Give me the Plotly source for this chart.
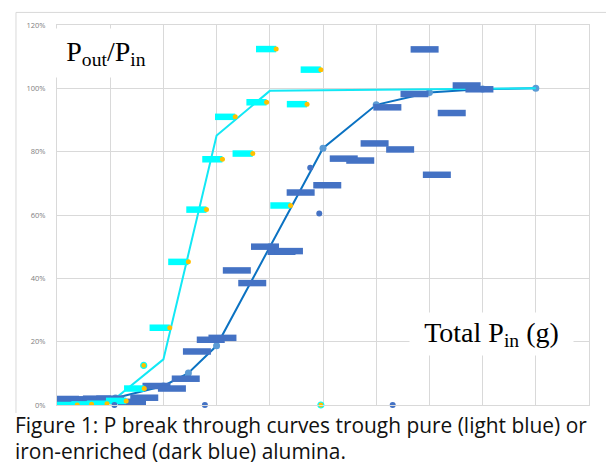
import plotly.graph_objects as go

# ---- data (x in grid units of total P in, y in %) ----
pure_line_x = [0, 1.1, 2, 3, 4, 5, 6, 7, 8, 9]
pure_line_y = [0.2, 2.1, 14.4, 85.1, 99.2, 99.4, 99.6, 99.8, 100, 100]

iron_line_x = [0, 1.1, 2, 2.47, 3, 4, 5, 6, 7, 8, 9]
iron_line_y = [1.5, 2.2, 6.0, 10.1, 18.7, 50.0, 81.1, 94.8, 98.7, 99.8, 100]

pure_pts_x = [0.38, 0.65, 0.94, 1.30, 1.64, 2.12, 2.47, 2.81, 3.11, 3.35, 3.68,
              3.94, 4.12, 4.39, 4.70, 4.96]
pure_pts_y = [0.0, 0.2, 0.4, 1.3, 5.2, 24.4, 45.2, 61.7, 77.6, 91.0, 79.4,
              95.6, 112.4, 63.0, 95.0, 105.9]
pure_single_x = [1.63, 4.96]
pure_single_y = [12.5, 0.0]

iron_pts_x = [0.15, 0.45, 0.75, 1.0, 1.41, 1.64, 1.87, 2.16, 2.42, 2.63, 2.89,
              3.11, 3.38, 3.67, 3.91, 4.22, 4.36, 4.58, 5.08, 5.39, 5.70, 5.97,
              6.21, 6.45, 6.72, 6.91, 7.14, 7.42, 7.70, 7.94]
iron_pts_y = [1.9, 1.8, 2.0, 2.0, 1.0, 2.3, 6.0, 5.2, 8.3, 16.9, 20.6,
              21.2, 42.5, 38.5, 50.0, 48.4, 48.6, 67.1, 69.4, 77.8, 77.2, 82.6,
              94.0, 80.7, 98.2, 112.3, 72.7, 92.2, 100.9, 99.7]
iron_single_x = [1.08, 2.78, 6.31, 4.76, 4.93]
iron_single_y = [0.0, 0.0, 0.0, 74.9, 60.5]

y_ticks = [0, 20, 40, 60, 80, 100, 120]
y_tick_labels = ["0%", "20%", "40%", "60%", "80%", "100%", "120%"]

CYAN_LINE = "#12E8F5"
CYAN = "#00FFFF"
GOLD = "#FFC000"
DARK = "#4472C4"
LINE_BLUE = "#0B72C2"
MARK_BLUE = "#5B9BD5"
GRID = "#D9D9D9"

fig = go.Figure()

fig.add_trace(go.Scatter(
    x=iron_line_x, y=iron_line_y, mode="lines+markers",
    line=dict(color=LINE_BLUE, width=2),
    marker=dict(color=MARK_BLUE, size=7),
    showlegend=False, hoverinfo="skip"))

fig.add_trace(go.Scatter(
    x=pure_line_x, y=pure_line_y, mode="lines",
    line=dict(color=CYAN_LINE, width=2),
    showlegend=False, hoverinfo="skip"))

fig.add_trace(go.Scatter(
    x=iron_pts_x, y=iron_pts_y, mode="markers",
    marker=dict(symbol="line-ew", size=20, line=dict(color=DARK, width=6.5)),
    showlegend=False, hoverinfo="skip"))

fig.add_trace(go.Scatter(
    x=pure_pts_x, y=pure_pts_y, mode="markers",
    marker=dict(color=GOLD, size=5),
    error_x=dict(type="constant", symmetric=False, value=0, valueminus=0.38,
                 thickness=6.5, width=0, color=CYAN),
    showlegend=False, hoverinfo="skip"))

fig.add_trace(go.Scatter(
    x=pure_single_x, y=pure_single_y, mode="markers",
    marker=dict(color=GOLD, size=6, line=dict(color=CYAN, width=1.2)),
    showlegend=False, hoverinfo="skip", cliponaxis=False))

fig.add_trace(go.Scatter(
    x=iron_single_x, y=iron_single_y, mode="markers",
    marker=dict(color=DARK, size=6),
    showlegend=False, hoverinfo="skip", cliponaxis=False))

fig.update_xaxes(range=[0, 10], dtick=1, showticklabels=False, showgrid=True,
                 gridcolor=GRID, gridwidth=1, zeroline=False,
                 showline=True, mirror=True, linecolor=GRID, linewidth=1)
fig.update_yaxes(range=[0, 120], tickvals=y_ticks, ticktext=y_tick_labels,
                 tickfont=dict(family="Open Sans", size=7.5, color="#808080"),
                 showgrid=True, gridcolor=GRID, gridwidth=1, zeroline=False,
                 showline=True, mirror=True, linecolor=GRID, linewidth=1,
                 ticklabelstandoff=9)

annotations = [
    dict(text="P<sub>out</sub>/P<sub>in</sub>", xref="paper", yref="paper",
         x=0.0921, y=0.925, xanchor="center", yanchor="middle", showarrow=False,
         font=dict(family="Liberation Serif", size=28, color="#000000"),
         bgcolor="#FFFFFF", width=104, height=44, borderpad=2),
    dict(text="Total P<sub>in</sub> (g)", xref="paper", yref="paper",
         x=0.8167, y=0.188, xanchor="center", yanchor="middle", showarrow=False,
         font=dict(family="Liberation Serif", size=28, color="#000000"),
         bgcolor="#FFFFFF", width=159, height=38, borderpad=2),
    dict(text="Figure 1: P break through curves trough pure (light blue) or",
         xref="paper", yref="paper", x=-0.0827, y=-0.0522, xanchor="left",
         yanchor="middle", showarrow=False,
         font=dict(family="Open Sans", size=20.9, color="#111111")),
    dict(text="iron-enriched (dark blue) alumina.",
         xref="paper", yref="paper", x=-0.0827, y=-0.120, xanchor="left",
         yanchor="middle", showarrow=False,
         font=dict(family="Open Sans", size=20.9, color="#111111")),
]

shapes = [
    dict(type="line", xref="paper", yref="paper", x0=-0.0771, x1=1.05,
         y0=1.0331, y1=1.0331, line=dict(color=GRID, width=1)),
    dict(type="line", xref="paper", yref="paper", x0=-0.0771, x1=-0.0771,
         y0=1.0331, y1=-0.021, line=dict(color=GRID, width=1)),
]

# the page body adds an 8px margin, so the figure is 8px smaller and shifted
fig.update_layout(width=606, height=456,
                  margin=dict(l=49, r=25, t=14, b=59),
                  paper_bgcolor="#FFFFFF", plot_bgcolor="#FFFFFF",
                  annotations=annotations, shapes=shapes)

fig.write_html("out.html")
